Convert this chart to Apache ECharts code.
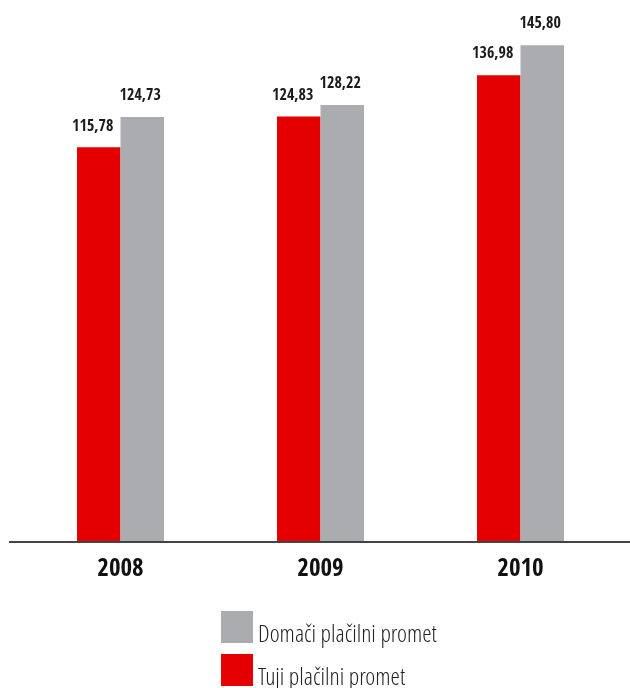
<!DOCTYPE html>
<html>
<head>
<meta charset="utf-8">
<script src="https://cdn.jsdelivr.net/npm/echarts@6/dist/echarts.min.js"></script>
<style>
  html, body { margin: 0; padding: 0; background: #ffffff; }
  #chart { width: 630px; height: 688px; }
</style>
</head>
<body>
<div id="chart"></div>
<script>
// Payment turnover by year
const years = ['2008', '2009', '2010'];
const domesticName = 'Domači plačilni promet';
const foreignName = 'Tuji plačilni promet';
const foreignValues = [115.78, 124.83, 136.98];
const domesticValues = [124.73, 128.22, 145.80];

const RED = '#e50000';
const GREY = '#abacaf';
const NARROW = "'Open Sans Condensed', 'Open Sans', 'Liberation Sans', sans-serif";
const NARROW_LIGHT = "'Open Sans Condensed Light', 'Open Sans', 'Liberation Sans', sans-serif";

const gridTop = 31, gridBottom = 147;
const chartH = 688;

const fmt = v => v.toFixed(2).replace('.', ',');

const chart = echarts.init(document.getElementById('chart'), null, { renderer: 'canvas' });

const valueLabel = (dx) => ({
  show: true,
  position: 'top',
  distance: 13,
  offset: [dx, 0],
  formatter: p => fmt(p.value),
  fontFamily: NARROW,
  fontWeight: 'bold condensed',
  fontSize: 16,
  color: '#1a1a1a'
});

// legend names sit low, with their baseline on the swatch's lower edge
const legendText = {
  rich: {
    n: {
      fontFamily: NARROW_LIGHT,
      fontWeight: '300 condensed',
      fontSize: 24,
      color: '#222222',
      padding: [17, 0, 0, 0]
    }
  }
};

const legendBase = {
  orient: 'vertical',
  left: 221,
  itemWidth: 32,
  itemHeight: 32,
  itemGap: 0,
  padding: 0,
  icon: 'rect',
  selectedMode: false,
  formatter: name => '{n|' + name + '}',
  textStyle: legendText
};

chart.setOption({
  animation: false,
  backgroundColor: '#ffffff',
  grid: { left: 20.5, right: 9.5, top: gridTop, bottom: gridBottom },
  xAxis: {
    type: 'category',
    data: years,
    axisLine: { show: false },
    axisTick: { show: false },
    axisLabel: {
      margin: 16,
      fontFamily: NARROW,
      fontWeight: 'bold condensed',
      fontSize: 25,
      color: '#111111'
    }
  },
  yAxis: {
    type: 'value',
    min: 0,
    max: 150,
    show: false,
    splitLine: { show: false }
  },
  legend: [
    Object.assign({}, legendBase, { data: [domesticName], top: 611 }),
    Object.assign({}, legendBase, { data: [foreignName], top: 654 })
  ],
  series: [
    {
      name: foreignName,
      type: 'bar',
      data: foreignValues,
      barWidth: 43.5,
      barGap: '0%',
      itemStyle: { color: RED },
      label: valueLabel(-6)
    },
    {
      name: domesticName,
      type: 'bar',
      data: domesticValues,
      barWidth: 43.5,
      barGap: '0%',
      itemStyle: { color: GREY },
      label: valueLabel(-2)
    }
  ],
  graphic: [
    {
      type: 'line',
      shape: { x1: 9, y1: chartH - gridBottom + 1, x2: 630, y2: chartH - gridBottom + 1 },
      style: { stroke: '#444444', lineWidth: 2 },
      z: 10
    }
  ]
});
</script>
</body>
</html>
